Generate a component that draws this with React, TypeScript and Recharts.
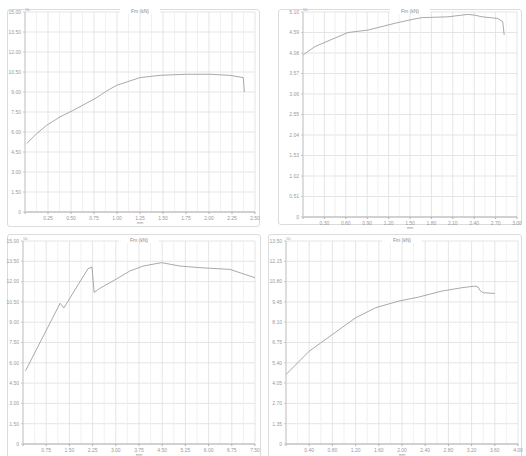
import React from 'react';
import { LineChart, Line, XAxis, YAxis, CartesianGrid, ReferenceLine } from 'recharts';

// Panel 1 (top-left)
const p1X = [0.018, 0.127, 0.235, 0.38, 0.525, 0.761, 0.888, 0.996, 1.25, 1.467, 1.757, 2.011, 2.228, 2.373, 2.384];
const p1Y = [5.13, 5.88, 6.5, 7.13, 7.63, 8.5, 9.08, 9.5, 10.08, 10.25, 10.33, 10.33, 10.25, 10.08, 9.0];
const p1XTicks = [0, 0.25, 0.5, 0.75, 1.0, 1.25, 1.5, 1.75, 2.0, 2.25, 2.5];
const p1YTicks = [0, 1.5, 3, 4.5, 6, 7.5, 9, 10.5, 12, 13.5, 15];

// Panel 2 (top-right)
const p2X = [0, 0.168, 0.63, 0.91, 1.29, 1.57, 1.67, 2.03, 2.31, 2.41, 2.51, 2.73, 2.8, 2.82];
const p2Y = [4.03, 4.24, 4.59, 4.65, 4.82, 4.93, 4.96, 4.98, 5.04, 5.02, 4.98, 4.94, 4.86, 4.53];
const p2XTicks = [0, 0.3, 0.6, 0.9, 1.2, 1.5, 1.8, 2.1, 2.4, 2.7, 3.0];
const p2YTicks = [0, 0.51, 1.02, 1.53, 2.04, 2.55, 3.06, 3.57, 4.08, 4.59, 5.1];

// Panel 3 (bottom-left)
const p3X = [0.08, 1.2, 1.32, 2.1, 2.23, 2.3, 2.48, 2.95, 3.453, 3.885, 4.478, 5.072, 5.719, 6.691, 7.177, 7.5];
const p3Y = [5.4, 10.4, 10.05, 12.95, 13.08, 11.2, 11.5, 12.1, 12.78, 13.15, 13.4, 13.15, 13.03, 12.9, 12.53, 12.29];
const p3XTicks = [0, 0.75, 1.5, 2.25, 3.0, 3.75, 4.5, 5.25, 6.0, 6.75, 7.5];
const p3YTicks = [0, 1.5, 3, 4.5, 6, 7.5, 9, 10.5, 12, 13.5, 15];

// Panel 4 (bottom-right)
const p4X = [0, 0.4, 0.8, 1.2, 1.543, 1.943, 2.286, 2.686, 3.029, 3.257, 3.314, 3.343, 3.4, 3.6];
const p4Y = [4.618, 6.173, 7.283, 8.393, 9.059, 9.503, 9.77, 10.169, 10.391, 10.502, 10.436, 10.214, 10.058, 10.014];
const p4XTicks = [0, 0.4, 0.8, 1.2, 1.6, 2.0, 2.4, 2.8, 3.2, 3.6, 4.0];
const p4YTicks = [0, 1.35, 2.7, 4.05, 5.4, 6.75, 8.1, 9.45, 10.8, 12.15, 13.5];

const TITLE = 'Fm (kN)';
const UNIT = 'mm';

const build = (xs: number[], ys: number[]) => xs.map((x, i) => ({ x, y: ys[i] }));
const minors = (ticks: number[]) => ticks.slice(1).map((t, i) => (t + ticks[i]) / 2);

const FONT = '"Liberation Sans", Arial, sans-serif';
const TXT = '#9a9a9a';

type PanelProps = {
  xs: number[]; ys: number[]; xTicks: number[]; yTicks: number[];
  left: number; top: number; width: number; height: number;
  margin: { top: number; right: number; bottom: number; left: number };
  box: { left: number; top: number; width: number; height: number };
};

const Panel = ({ xs, ys, xTicks, yTicks, left, top, width, height, margin, box }: PanelProps) => {
  const data = build(xs, ys);
  const xMax = xTicks[xTicks.length - 1];
  const yMax = yTicks[yTicks.length - 1];
  const plotLeft = margin.left + 18;
  const plotRight = width - margin.right;
  const plotBottom = height - margin.bottom - 10;
  const YTick = (props: any) => {
    const { x, y, payload } = props;
    const v = payload.value;
    return (
      <g>
        <text x={x} y={y + 1.8} textAnchor="end" fontSize={5} fill={TXT} fontFamily={FONT}>
          {v === 0 ? '0' : v.toFixed(2)}
        </text>
        {v === yMax ? (
          <text x={x + 4} y={y - 1} fontSize={3.5} fill={TXT} fontFamily={FONT}>10³</text>
        ) : null}
      </g>
    );
  };
  return (
    <>
      <div style={{ position: 'absolute', left: box.left, top: box.top, width: box.width, height: box.height, border: '1px solid #dcdcdc', borderRadius: 3, boxSizing: 'border-box' }} />
      <div style={{ position: 'absolute', left, top, width, height }}>
        <LineChart width={width} height={height} data={data} margin={margin}>
          <CartesianGrid stroke="#dedede" strokeWidth={0.8} />
          {minors(xTicks).map((m) => (
            <ReferenceLine key={m} x={m} stroke="#eeeeee" strokeWidth={0.8} />
          ))}
          <XAxis
            dataKey="x" type="number" domain={[0, xMax]} ticks={xTicks} height={10}
            tick={{ fontSize: 5, fill: TXT, fontFamily: FONT }}
            tickFormatter={(v: number) => (v === 0 ? '' : v.toFixed(2))}
            tickSize={2} stroke="#b0b0b0" interval={0}
          />
          <YAxis
            type="number" domain={[0, yMax]} ticks={yTicks} width={18}
            tick={<YTick />} tickSize={2} stroke="#c8c8c8" interval={0}
          />
          <Line dataKey="y" type="linear" stroke="#9a9a9a" strokeWidth={0.85} dot={false} isAnimationActive={false} />
        </LineChart>
        <div style={{ position: 'absolute', left: (plotLeft + plotRight) / 2 - 20, width: 40, top: margin.top - 4, textAlign: 'center', fontSize: 5, color: '#888', fontFamily: FONT, background: 'white', lineHeight: '6px' }}>{TITLE}</div>
        <div style={{ position: 'absolute', left: (plotLeft + plotRight) / 2 - 10, width: 20, top: plotBottom + 9, textAlign: 'center', fontSize: 4, color: '#999', fontFamily: FONT, lineHeight: '4px' }}>{UNIT}</div>
      </div>
    </>
  );
};

export default function App() {
  return (
    <div style={{ position: 'absolute', left: 0, top: 0, width: 526, height: 456, overflow: 'hidden', background: 'white' }}>
      <Panel xs={p1X} ys={p1Y} xTicks={p1XTicks} yTicks={p1YTicks}
        left={0} top={0} width={260} height={228}
        margin={{ top: 12, right: 5, bottom: 6, left: 7 }}
        box={{ left: 7, top: 9, width: 253, height: 218 }} />
      <Panel xs={p2X} ys={p2Y} xTicks={p2XTicks} yTicks={p2YTicks}
        left={263} top={0} width={263} height={228}
        margin={{ top: 12, right: 9, bottom: 1, left: 22 }}
        box={{ left: 278, top: 9, width: 244, height: 216 }} />
      <Panel xs={p3X} ys={p3Y} xTicks={p3XTicks} yTicks={p3YTicks}
        left={0} top={228} width={263} height={228}
        margin={{ top: 13, right: 8, bottom: 2, left: 5 }}
        box={{ left: 7, top: 234, width: 254, height: 240 }} />
      <Panel xs={p4X} ys={p4Y} xTicks={p4XTicks} yTicks={p4YTicks}
        left={263} top={228} width={263} height={228}
        margin={{ top: 13, right: 8, bottom: 2, left: 5 }}
        box={{ left: 268, top: 234, width: 254, height: 240 }} />
    </div>
  );
}
